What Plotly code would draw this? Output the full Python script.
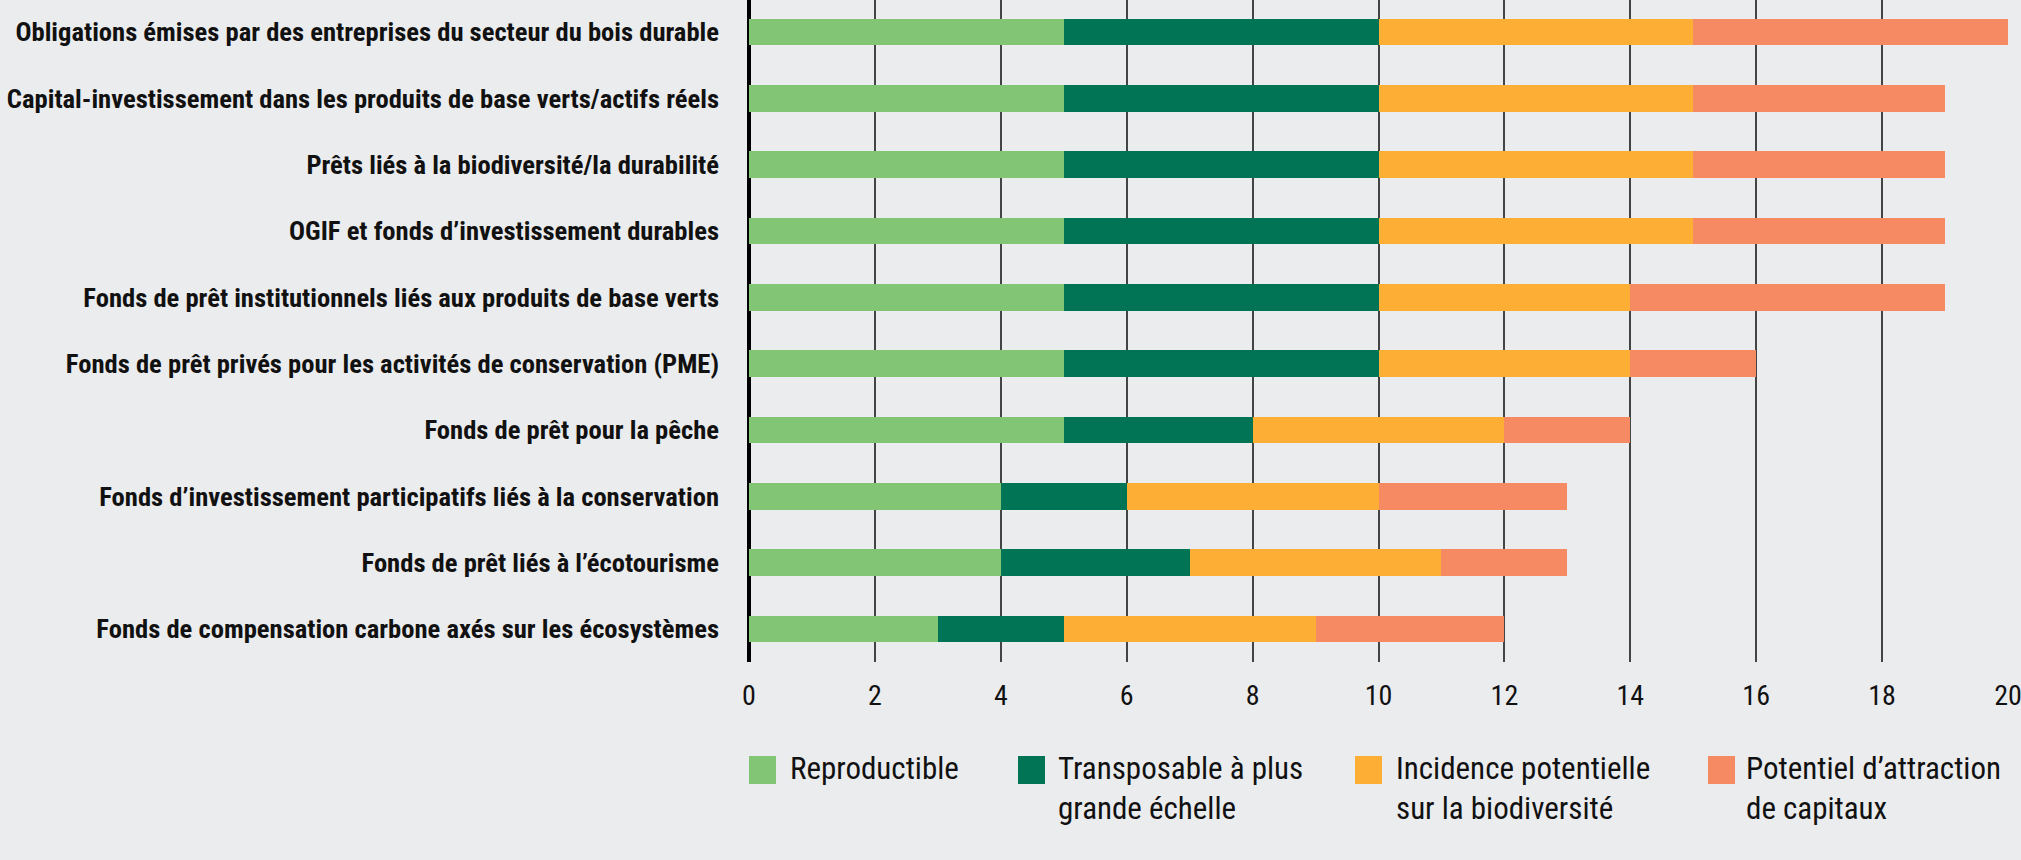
import plotly.graph_objects as go

categories = [
    "Obligations émises par des entreprises du secteur du bois durable",
    "Capital-investissement dans les produits de base verts/actifs réels",
    "Prêts liés à la biodiversité/la durabilité",
    "OGIF et fonds d’investissement durables",
    "Fonds de prêt institutionnels liés aux produits de base verts",
    "Fonds de prêt privés pour les activités de conservation (PME)",
    "Fonds de prêt pour la pêche",
    "Fonds d’investissement participatifs liés à la conservation",
    "Fonds de prêt liés à l’écotourisme",
    "Fonds de compensation carbone axés sur les écosystèmes",
]
reproductible = [5, 5, 5, 5, 5, 5, 5, 4, 4, 3]
transposable = [5, 5, 5, 5, 5, 5, 3, 2, 3, 2]
incidence = [5, 5, 5, 5, 4, 4, 4, 4, 4, 4]
potentiel = [5, 4, 4, 4, 5, 2, 2, 3, 2, 3]

series_names = [
    "Reproductible",
    "Transposable à plus<br>grande échelle",
    "Incidence potentielle<br>sur la biodiversité",
    "Potentiel d’attraction<br>de capitaux",
]
series_values = [reproductible, transposable, incidence, potentiel]
colors = ["#82C574", "#007455", "#FDAE35", "#F58A63"]
x_ticks = [0, 2, 4, 6, 8, 10, 12, 14, 16, 18, 20]

BG = "#EBECEE"
FONT = "Roboto Condensed, Liberation Sans Narrow, DejaVu Sans Condensed, sans-serif"

W, H = 2021, 860
ML, MR, MT, MB = 749, 13, 0, 198
PW, PH = W - ML - MR, H - MT - MB

fig = go.Figure()
for name, vals, col in zip(series_names, series_values, colors):
    fig.add_trace(go.Bar(
        y=categories, x=vals, orientation="h", name=name,
        marker=dict(color=col, line=dict(width=0)),
        showlegend=False,
    ))


def px_x(p):
    return (p - ML) / PW


def px_y(p):
    return (MT + PH - p) / PH


legend_sq_x = [749, 1018, 1355, 1708]
legend_tx_x = [788, 1056, 1394, 1744]
shapes = []
annotations = []
for name, col, sx, tx in zip(series_names, colors, legend_sq_x, legend_tx_x):
    shapes.append(dict(
        type="rect", xref="paper", yref="paper",
        x0=px_x(sx), x1=px_x(sx + 27), y0=px_y(784), y1=px_y(756),
        fillcolor=col, line=dict(width=0),
    ))
    annotations.append(dict(
        text=name, xref="paper", yref="paper",
        x=px_x(tx), y=px_y(748), xanchor="left", yanchor="top",
        align="left", showarrow=False,
        font=dict(family=FONT, size=31, color="#111111"),
    ))

fig.update_layout(
    width=W, height=H,
    template="none",
    barmode="stack",
    bargap=0.6,
    paper_bgcolor=BG, plot_bgcolor=BG,
    margin=dict(l=ML, r=MR, t=MT, b=MB, pad=0),
    xaxis=dict(
        range=[0, 20], tickvals=x_ticks, ticktext=[str(v) for v in x_ticks],
        showgrid=True, gridcolor="#444444", gridwidth=1.5,
        zeroline=True, zerolinecolor="#000000", zerolinewidth=4,
        showline=False, ticks="", ticklabelstandoff=14,
        ticklabeloverflow="allow",
        tickfont=dict(family=FONT, size=28, color="#111111"),
        automargin=False, fixedrange=True,
    ),
    yaxis=dict(
        categoryorder="array", categoryarray=categories,
        range=[9.5, -0.485],
        showgrid=False, zeroline=False, showline=False, ticks="",
        ticklabelstandoff=29,
        tickfont=dict(family=FONT, size=26.6, color="#111111", weight="bold"),
        automargin=False, fixedrange=True,
    ),
    shapes=shapes,
    annotations=annotations,
    showlegend=False,
)

fig.write_html(
    "out.html",
    config={"displayModeBar": False},
    post_script="document.body.style.margin='0';document.body.style.overflow='hidden';",
)
